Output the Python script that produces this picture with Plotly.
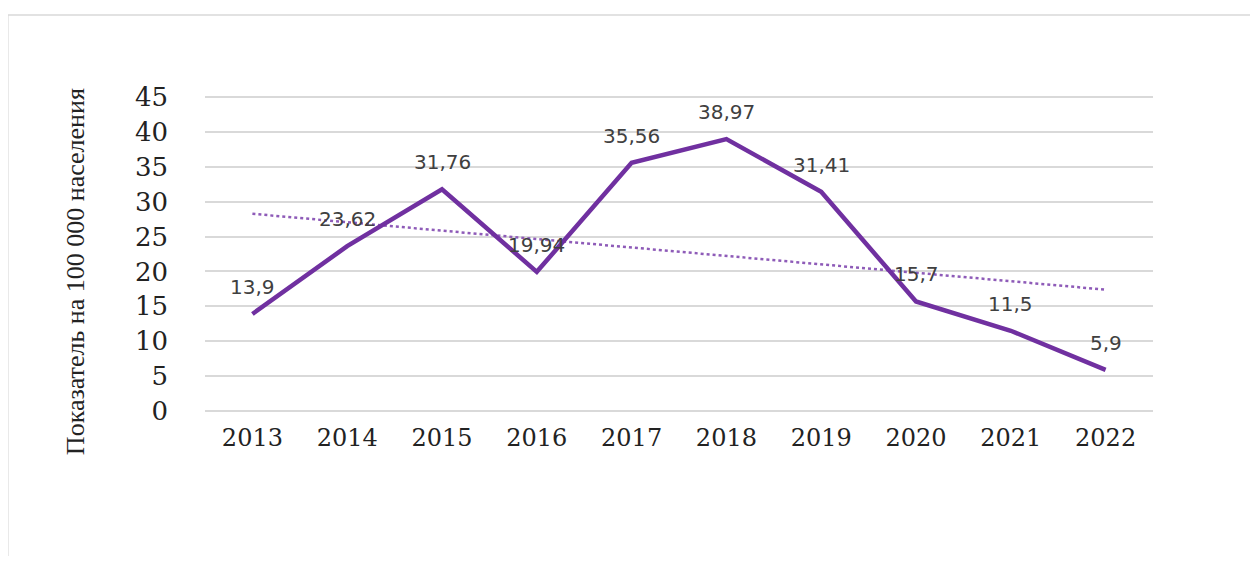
import numpy as np
import plotly.graph_objects as go

years = ["2013", "2014", "2015", "2016", "2017", "2018", "2019", "2020", "2021", "2022"]
values = [13.9, 23.62, 31.76, 19.94, 35.56, 38.97, 31.41, 15.7, 11.5, 5.9]
labels = ["13,9", "23,62", "31,76", "19,94", "35,56", "38,97", "31,41", "15,7", "11,5", "5,9"]
y_ticks = [0, 5, 10, 15, 20, 25, 30, 35, 40, 45]
y_title = "Показатель на 100 000 населения"

idx = np.arange(len(values))
slope, intercept = np.polyfit(idx, values, 1)
trend = slope * idx + intercept

fig = go.Figure()
fig.add_trace(go.Scatter(
    x=years, y=trend, mode="lines",
    line=dict(color="#8e5bb8", width=2.5, dash="dot"),
    hoverinfo="skip", showlegend=False))
fig.add_trace(go.Scatter(
    x=years, y=values, mode="lines",
    line=dict(color="#7030a0", width=4.5),
    showlegend=False))

for i, (v, lab) in enumerate(zip(values, labels)):
    fig.add_annotation(x=i, y=v, text=lab, showarrow=False, yshift=27,
                       font=dict(family="DejaVu Sans, Verdana, sans-serif", size=20, color="#404040"))

fig.add_annotation(xref="paper", yref="paper", x=-0.137, y=0.433, text=y_title, textangle=-90,
                   showarrow=False, xanchor="center", yanchor="middle",
                   font=dict(family="Liberation Serif, Times New Roman, serif", size=26, color="#222222"))

fig.add_shape(type="rect", xref="paper", yref="paper", x0=-0.208, y0=-0.6, x1=1.3, y1=1.234,
              line=dict(color="#d9d9d9", width=1.5), fillcolor="rgba(0,0,0,0)", layer="below")

fig.update_layout(
    width=1242, height=548,
    margin=dict(l=197, r=97, t=82, b=145),
    paper_bgcolor="white", plot_bgcolor="white",
    xaxis=dict(type="category", range=[-0.5, 9.5], showgrid=False, showline=False,
               ticks="", ticklabelstandoff=10,
               tickfont=dict(family="DejaVu Serif, serif", size=24, color="#222222")),
    yaxis=dict(range=[0, 46], tickvals=y_ticks, showgrid=True, gridcolor="#d9d9d9", gridwidth=2,
               zeroline=True, zerolinecolor="#d9d9d9", zerolinewidth=2, showline=False,
               ticks="", ticklabelstandoff=36,
               tickfont=dict(family="DejaVu Serif, serif", size=26, color="#222222")),
)

fig.write_html("out.html")
